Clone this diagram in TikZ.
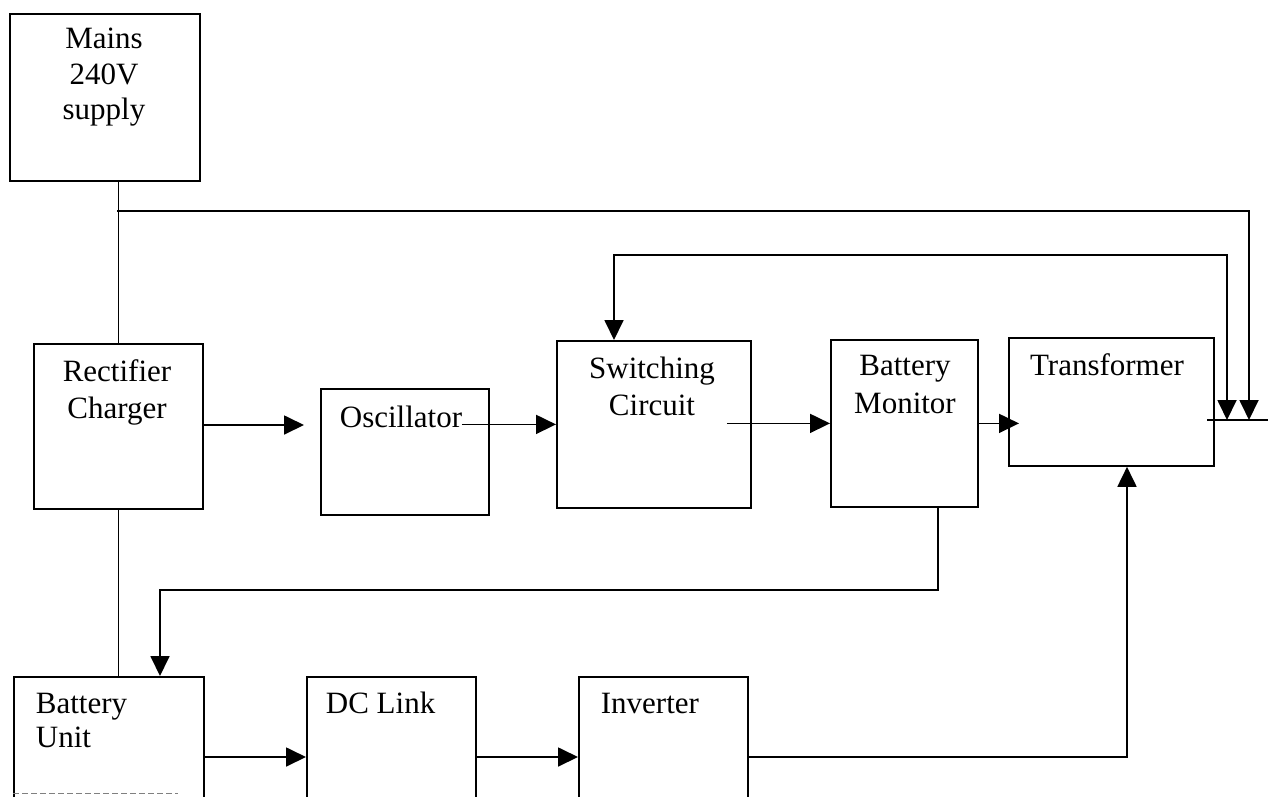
\documentclass[tikz,border=0pt]{standalone}
\usepackage{fontspec}
\setmainfont{Liberation Serif}
\usetikzlibrary{arrows.meta,calc}
\begin{document}
\begin{tikzpicture}[x=1pt,y=-1pt, line width=1.8pt,
  box/.style={draw, line width=1.8pt, inner sep=0pt, anchor=north west},
  txt/.style={font=\fontsize{31}{37}\selectfont, inner sep=0pt, anchor=base},
  txtl/.style={txt, anchor=base west},
  arr/.style={-{Triangle[length=20pt,width=19pt]}},
  conn/.style={line width=1.8pt}
]
\useasboundingbox (0,0) rectangle (1272,796);
\fill[white] (0,0) rectangle (1272,796);

% boxes
\node[box, minimum width=190pt, minimum height=167pt] (mains) at (9,13) {};
\node[box, minimum width=169pt, minimum height=165pt] (rect) at (33,343) {};
\node[box, minimum width=168pt, minimum height=126pt] (osc) at (320,388) {};
\node[box, minimum width=194pt, minimum height=167pt] (sw) at (556,340) {};
\node[box, minimum width=147pt, minimum height=167pt] (bm) at (830,339) {};
\node[box, minimum width=205pt, minimum height=128pt] (tr) at (1008,337) {};
\node[box, minimum width=190pt, minimum height=126pt] (bu) at (13,676) {};
\node[box, minimum width=169pt, minimum height=126pt] (dc) at (306,676) {};
\node[box, minimum width=169pt, minimum height=126pt] (inv) at (578,676) {};
\draw[gray, line width=0.8pt, dash pattern=on 6pt off 3pt] ($(bu.north west)+(0,117)$) -- ($(bu.north west)+(165,117)$);

% texts
\node[txt] (tm1) at (104,48) {Mains};
\node[txt] (tm2) at (104,84) {240V};
\node[txt] (tm3) at (104,119) {supply};
\node[txt] (tr1) at (117,381) {Rectifier};
\node[txt] (tr2) at (117,418) {Charger};
\node[txt] (to1) at (401,427) {Oscillator};
\node[txt] (ts1) at (652,378) {Switching};
\node[txt] (ts2) at (652,415) {Circuit};
\node[txt] (tb1) at (905,375) {Battery};
\node[txt] (tb2) at (905,413) {Monitor};
\node[txt] (tt1) at (1107,375) {Transformer};
\node[txtl] (tu1) at (35,713) {Battery};
\node[txtl] (tu2) at (35,747) {Unit};
\node[txtl] (td1) at (325,713) {DC Link};
\node[txtl] (ti1) at (600,713) {Inverter};

% free ends
\coordinate (j1) at (117,211);
\coordinate (c1) at (1249,420);
\coordinate (c2) at (1227,420);
\coordinate (oa) at (1207,420);
\coordinate (ob) at (1268,420);

% connectors
\draw[conn] (mains.south -| rect.north) -- (rect.north);
\draw[conn, arr] (j1) -| (c1);
\draw[conn, {Triangle[length=20pt,width=19pt]}-{Triangle[length=20pt,width=19pt]}]
  (c2) |- (614,255) -- ($(sw.north west)+(58,0)$);
\draw[conn] (oa) -- (ob);
\draw[conn, arr] (rect.east |- 0,425) -- (304,425);
\draw[conn, arr] ($(sw.west -| osc.east)+(-28,0)$) -- (sw.west);
\draw[conn, arr] ($(bm.west -| sw.east)+(-25,0)$) -- (bm.west);
\draw[conn, arr] (bm.east) -- ($(bm.east -| tr.west)+(11,0)$);
\draw[conn, arr] ($(bm.south east)+(-41,0)$) |- (160,590) -- ($(bu.north west)+(147,0)$);
\draw[conn] (rect.south) -- (rect.south |- bu.north);
\draw[conn, arr] ($(bu.north east)+(0,81)$) -- ($(dc.north west)+(0,81)$);
\draw[conn, arr] ($(dc.north east)+(0,81)$) -- ($(inv.north west)+(0,81)$);
\draw[conn, arr] ($(inv.north east)+(0,81)$) -| ($(tr.south west)+(119,0)$);
\end{tikzpicture}
\end{document}
